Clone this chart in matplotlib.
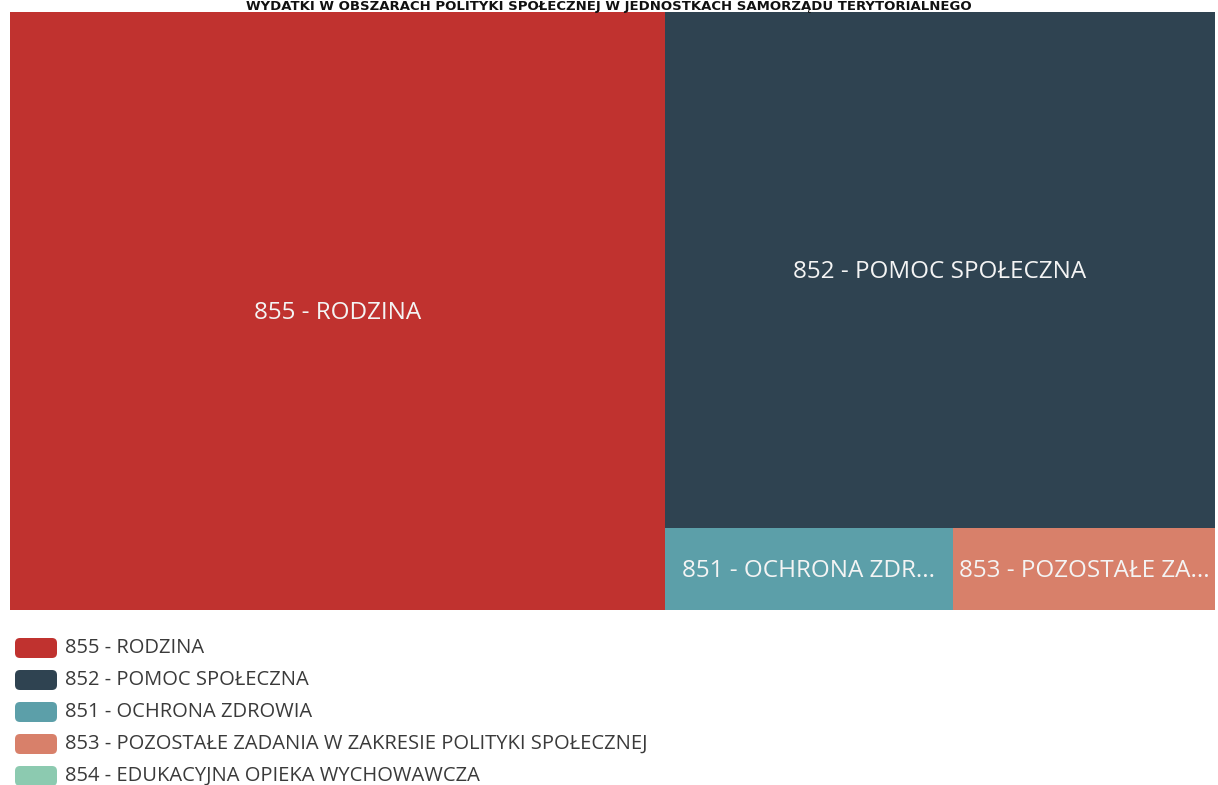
import matplotlib
matplotlib.use("Agg")
import matplotlib.pyplot as plt
from matplotlib.patches import Rectangle, FancyBboxPatch

# spending by social-policy area (share of total, %)
categories = [
    "855 - RODZINA",
    "852 - POMOC SPOŁECZNA",
    "851 - OCHRONA ZDROWIA",
    "853 - POZOSTAŁE ZADANIA W ZAKRESIE POLITYKI SPOŁECZNEJ",
    "854 - EDUKACYJNA OPIEKA WYCHOWAWCZA",
]
values = [54.4, 39.4, 3.3, 3.0, 0.0]
box_labels = ["855 - RODZINA", "852 - POMOC SPOŁECZNA", "851 - OCHRONA ZDR...",
              "853 - POZOSTAŁE ZA...", ""]
colors = ["#C0322F", "#2F4351", "#5C9FA9", "#D8806A", "#8CCAB0"]
title = "WYDATKI W OBSZARACH POLITYKI SPOŁECZNEJ W JEDNOSTKACH SAMORZĄDU TERYTORIALNEGO"

plt.rcParams["font.family"] = ["Open Sans", "DejaVu Sans"]


def worst(row, side):
    s = sum(row)
    return max(max(side * side * r / (s * s), s * s / (side * side * r)) for r in row)


def layout_row(row, x, y, w, h):
    # place one row along the shorter side, return rects and leftover space
    s = sum(row)
    rects = []
    if w >= h:
        cw = s / h
        cy = y
        for r in row:
            rects.append((x, cy, cw, r / cw))
            cy += r / cw
        return rects, (x + cw, y, w - cw, h)
    rh = s / w
    cx = x
    for r in row:
        rects.append((cx, y, r / rh, rh))
        cx += r / rh
    return rects, (x, y + rh, w, h - rh)


def squarify(vals, x, y, w, h):
    total = sum(vals)
    areas = [v * w * h / total for v in vals]
    rects = []
    row = []
    i = 0
    while i < len(areas):
        side = min(w, h)
        a = areas[i]
        if not row or worst(row + [a], side) <= worst(row, side):
            row.append(a)
            i += 1
        else:
            r, (x, y, w, h) = layout_row(row, x, y, w, h)
            rects += r
            row = []
    if row:
        r, _ = layout_row(row, x, y, w, h)
        rects += r
    return rects


fig = plt.figure(figsize=(12.18, 7.85), dpi=100)
ax = fig.add_axes([0, 0, 1, 1])
ax.set_xlim(0, 1218)
ax.set_ylim(785, 0)
ax.axis("off")

shown = [(v, c, l) for v, c, l in zip(values, colors, box_labels) if v > 0]
rects = squarify([s[0] for s in shown], 10, 12, 1205, 598)
for (x, y, w, h), (v, c, l) in zip(rects, shown):
    ax.add_patch(Rectangle((x, y), w, h, facecolor=c, edgecolor="none"))
    ax.text(x + w / 2, y + h / 2 + 2, l, ha="center", va="center",
            color="#F4F4F4", fontsize=17.5)

# title squeezed into the strip above the treemap
ax.text(609, 10, title, ha="center", va="baseline", fontsize=9.5,
        fontweight="bold", color="#111111", family="DejaVu Sans")

# legend
for i, (name, c) in enumerate(zip(categories, colors)):
    yc = 648 + i * 32
    ax.add_patch(FancyBboxPatch((18, yc - 7), 36, 14,
                                boxstyle="round,pad=3,rounding_size=5",
                                facecolor=c, edgecolor="none"))
    ax.text(65, yc, name, ha="left", va="center", fontsize=14.5,
            color="#3A3A3A")

fig.savefig("out.png", dpi=100)
